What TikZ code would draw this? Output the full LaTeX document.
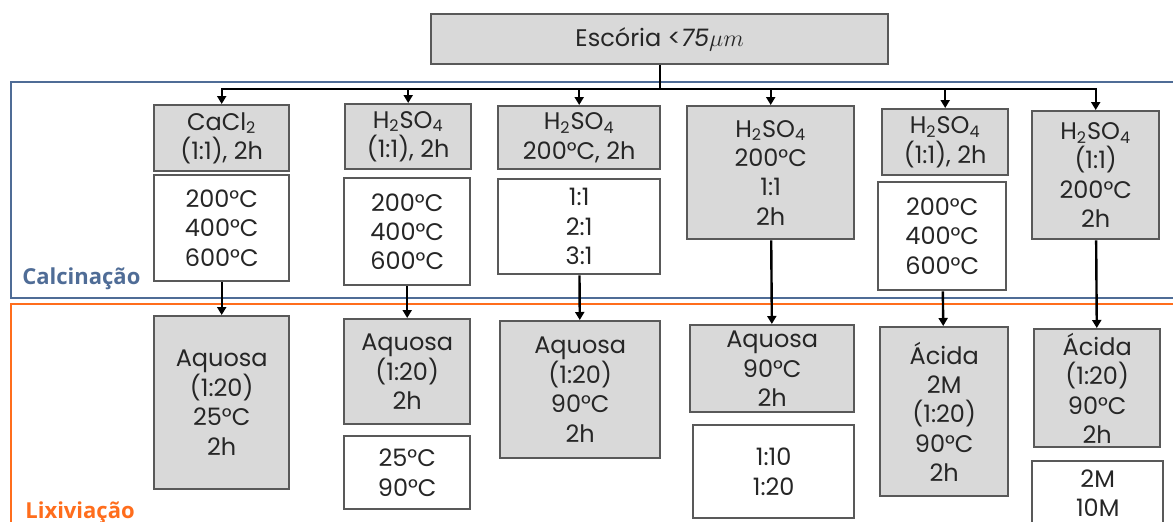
\documentclass[tikz,border=0pt]{standalone}
\usepackage{fontspec}
\setmainfont{Poppins}
\newfontfamily\rotulo{Open Sans}
\usetikzlibrary{arrows.meta}
\definecolor{cinzaclaro}{RGB}{217,217,217}
\definecolor{borda}{RGB}{89,89,89}
\definecolor{texto}{RGB}{38,38,38}
\definecolor{azulcal}{RGB}{79,108,150}
\definecolor{laranja}{RGB}{255,109,28}

\begin{document}
\begin{tikzpicture}[x=0.5pt, y=-0.5pt,
  caixa/.style={draw=borda, line width=1.2pt, inner sep=0pt, align=center,
    text=texto, font=\fontsize{12}{14.7}\selectfont},
  cinza/.style={caixa, fill=cinzaclaro},
  branca/.style={caixa, fill=white},
  tam/.style 2 args={minimum width=#1*0.5pt, minimum height=#2*0.5pt, anchor=north west},
  etapa/.style={anchor=base west, inner sep=0pt, font=\fontsize{11}{13}\rotulo\bfseries},
  seta/.style={line width=1.2pt, -{Triangle[length=4pt, width=4.5pt]}}]
  \useasboundingbox (0,0) rectangle (1173,521);
  % Etapas (molduras)
  \draw[azulcal, line width=1pt] (11,82) rectangle (1190,298);
  \draw[laranja, line width=1.3pt] (11,304) rectangle (1190,540);
  \node[etapa, text=azulcal] (calc) at (22,284) {Calcinação};
  \node[etapa, text=laranja] (lix) at (25,518) {Lixiviação};
  % Amostra
  \node[cinza, tam={457}{50}] (topo) at (430,13) {Escória <$\mathit{75}\mu m$};
  \coordinate (barra) at (657,89);
  % Coluna 1
  \node[cinza, tam={135}{66}] (c1a) at (153,104) {CaCl\textsubscript{2}\\(1:1), 2h};
  \node[branca, tam={135}{106}] (c1b) at (153,174) {200°C\\400°C\\600°C};
  \node[cinza, tam={135}{173}] (c1c) at (153,315) {Aquosa\\(1:20)\\25°C\\2h};
  % Coluna 2
  \node[cinza, tam={126}{65}] (c2a) at (344,103) {H\textsubscript{2}SO\textsubscript{4}\\(1:1), 2h};
  \node[branca, tam={126}{107}] (c2b) at (343,177) {200°C\\400°C\\600°C};
  \node[cinza, tam={126}{105}] (c2c) at (343,318) {Aquosa\\(1:20)\\2h};
  \node[branca, tam={126}{73}] (c2d) at (343,435) {25°C\\90°C};
  % Coluna 3
  \node[cinza, tam={162}{63}] (c3a) at (497,105) {H\textsubscript{2}SO\textsubscript{4}\\200°C, 2h};
  \node[branca, tam={162}{95}] (c3b) at (497,178) {1:1\\2:1\\3:1};
  \node[cinza, tam={160}{137}] (c3c) at (499,320) {Aquosa\\(1:20)\\90°C\\2h};
  % Coluna 4
  \node[cinza, tam={167}{133}] (c4a) at (686,105) {H\textsubscript{2}SO\textsubscript{4}\\200°C\\1:1\\2h};
  \node[cinza, tam={164}{87}] (c4b) at (689,324) {Aquosa\\90°C\\2h};
  \node[branca, tam={161}{93}] (c4c) at (692,424) {1:10\\1:20};
  % Coluna 5
  \node[cinza, tam={126}{66}] (c5a) at (881,108) {H\textsubscript{2}SO\textsubscript{4}\\(1:1), 2h};
  \node[branca, tam={128}{108}] (c5b) at (877,181) {200°C\\400°C\\600°C};
  \node[cinza, tam={128}{169}] (c5c) at (879,326) {Ácida\\2M\\(1:20)\\90°C\\2h};
  % Coluna 6
  \node[cinza, tam={127}{128}] (c6a) at (1031,110) {H\textsubscript{2}SO\textsubscript{4}\\(1:1)\\200°C\\2h};
  \node[cinza, tam={126}{118}] (c6b) at (1033,328) {Ácida\\(1:20)\\90°C\\2h};
  \node[branca, tam={131}{64}] (c6c) at (1031,460) {2M\\10M};
  % Ligações
  \foreach \c in {c1a,c2a,c3a,c4a,c5a,c6a}
    \draw[seta] (topo.south) -- (topo.south |- barra) -| (\c.north);
  \draw[seta] (c1b) -- (c1c);
  \draw[seta] (c2b) -- (c2c);
  \draw[seta] (c3b) -- (c3c);
  \draw[seta] (c4a) -- (c4b);
  \draw[seta] (c5b) -- (c5c);
  \draw[seta] (c6a) -- (c6b);
\end{tikzpicture}
\end{document}
